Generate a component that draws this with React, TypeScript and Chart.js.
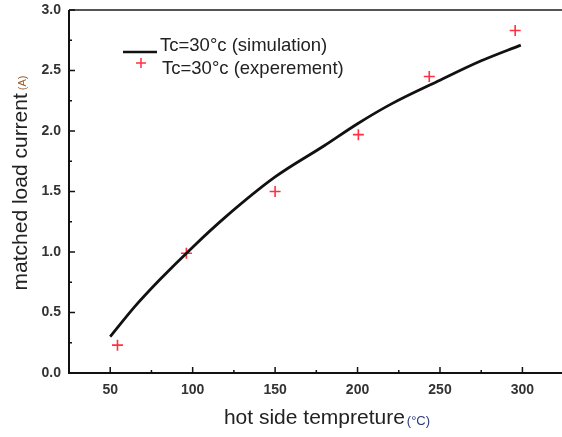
import React, { useEffect, useRef } from "react";
import { Chart, registerables } from "chart.js";

Chart.register(...registerables);

const simTemps = [50, 65, 80, 100, 120, 150, 180, 200, 220, 250, 275, 299];
const simCurrent = [0.3, 0.55, 0.77, 1.04, 1.29, 1.62, 1.88, 2.06, 2.22, 2.42, 2.58, 2.71];
const expTemps = [54.4, 96.2, 150, 200.5, 243.5, 295.6];
const expCurrent = [0.23, 0.99, 1.5, 1.97, 2.45, 2.83];
const xTicks = [50, 100, 150, 200, 250, 300];
const xMinor = [25, 75, 125, 175, 225, 275];
const yTicks = [0, 0.5, 1.0, 1.5, 2.0, 2.5, 3.0];
const yMinor = [0.25, 0.75, 1.25, 1.75, 2.25, 2.75];
const simLabel = "Tc=30°c (simulation)";
const expLabel = "Tc=30°c (experement)";
const xTitle = "hot side tempreture";
const xUnit = "(°C)";
const yTitle = "matched load current";
const yUnit = "(A)";

const FONT = "'Liberation Sans', Arial, sans-serif";

const decorPlugin = {
  id: "decor",
  afterDraw(chart: any) {
    const ctx = chart.ctx;
    const a = chart.chartArea;
    const xs = chart.scales.x;
    const ys = chart.scales.y;
    ctx.save();
    // frame
    ctx.strokeStyle = "#555";
    ctx.lineWidth = 2;
    ctx.beginPath();
    ctx.moveTo(a.left, a.top);
    ctx.lineTo(a.right, a.top);
    ctx.stroke();
    ctx.strokeStyle = "#111";
    ctx.lineWidth = 2;
    ctx.beginPath();
    ctx.moveTo(a.left, a.top);
    ctx.lineTo(a.left, a.bottom);
    ctx.lineTo(a.right, a.bottom);
    ctx.stroke();
    // ticks
    ctx.lineWidth = 1.5;
    ctx.beginPath();
    xTicks.forEach((v) => {
      const px = xs.getPixelForValue(v);
      ctx.moveTo(px, a.bottom);
      ctx.lineTo(px, a.bottom - 6);
    });
    xMinor.forEach((v) => {
      const px = xs.getPixelForValue(v);
      ctx.moveTo(px, a.bottom);
      ctx.lineTo(px, a.bottom - 3);
    });
    yTicks.forEach((v) => {
      const py = ys.getPixelForValue(v);
      ctx.moveTo(a.left, py);
      ctx.lineTo(a.left + 6, py);
    });
    yMinor.forEach((v) => {
      const py = ys.getPixelForValue(v);
      ctx.moveTo(a.left, py);
      ctx.lineTo(a.left + 3, py);
    });
    ctx.stroke();

    // axis titles
    ctx.textBaseline = "middle";
    ctx.textAlign = "left";
    ctx.font = `21px ${FONT}`;
    const xw = ctx.measureText(xTitle).width;
    ctx.font = `13px ${FONT}`;
    const xuw = ctx.measureText(xUnit).width;
    let sx = 327 - (xw + 2 + xuw) / 2;
    ctx.font = `21px ${FONT}`;
    ctx.fillStyle = "#222";
    ctx.fillText(xTitle, sx, 418);
    ctx.font = `13px ${FONT}`;
    ctx.fillStyle = "#2b3a7a";
    ctx.fillText(xUnit, sx + xw + 2, 421);

    ctx.save();
    ctx.translate(21, 183);
    ctx.rotate(-Math.PI / 2);
    ctx.font = `21px ${FONT}`;
    const yw = ctx.measureText(yTitle).width;
    ctx.font = `11px ${FONT}`;
    const yuw = ctx.measureText(yUnit).width;
    const sy = -(yw + 3 + yuw) / 2;
    ctx.font = `21px ${FONT}`;
    ctx.fillStyle = "#222";
    ctx.fillText(yTitle, sy, 0);
    ctx.font = `11px ${FONT}`;
    ctx.fillStyle = "#9a5a2a";
    ctx.fillText(yUnit, sy + yw + 3, 2);
    ctx.restore();

    // legend
    ctx.strokeStyle = "#111";
    ctx.lineWidth = 2.5;
    ctx.beginPath();
    ctx.moveTo(123, 52);
    ctx.lineTo(157, 52);
    ctx.stroke();
    ctx.strokeStyle = "#ff3040";
    ctx.lineWidth = 1.5;
    ctx.beginPath();
    ctx.moveTo(136, 63);
    ctx.lineTo(146, 63);
    ctx.moveTo(141, 58);
    ctx.lineTo(141, 68);
    ctx.stroke();
    ctx.font = `18.5px ${FONT}`;
    ctx.fillStyle = "#222";
    ctx.fillText(simLabel, 160, 46);
    ctx.fillText(expLabel, 162, 69);
    ctx.restore();
  },
};

export default function App() {
  const ref = useRef<HTMLCanvasElement>(null);
  useEffect(() => {
    if (!ref.current) return;
    const chart = new Chart(ref.current, {
      type: "scatter",
      data: {
        datasets: [
          {
            label: simLabel,
            data: simTemps.map((x, i) => ({ x, y: simCurrent[i] })),
            showLine: true,
            borderColor: "#111",
            borderWidth: 2.8,
            pointRadius: 0,
            cubicInterpolationMode: "monotone",
          } as any,
          {
            label: expLabel,
            data: expTemps.map((x, i) => ({ x, y: expCurrent[i] })),
            showLine: false,
            pointStyle: "cross",
            pointRadius: 5.5,
            borderColor: "#ff3040",
            backgroundColor: "#ff3040",
            pointBorderWidth: 1.6,
          } as any,
        ],
      },
      options: {
        responsive: false,
        animation: false,
        layout: { autoPadding: false, padding: { top: 10, right: 0, left: 0, bottom: 0 } },
        plugins: {
          legend: { display: false },
          tooltip: { enabled: false },
        },
        scales: {
          x: {
            type: "linear",
            min: 25,
            max: 324,
            grid: { display: false, drawTicks: false },
            border: { display: false },
            afterBuildTicks: (s: any) => {
              s.ticks = xTicks.map((v) => ({ value: v }));
            },
            afterFit: (s: any) => {
              s.height = 64;
              s.paddingLeft = 0;
              s.paddingRight = 0;
            },
            ticks: {
              padding: 9,
              color: "#333",
              font: { family: FONT, size: 14, weight: "bold" },
              maxRotation: 0,
            },
          },
          y: {
            type: "linear",
            min: 0,
            max: 3,
            grid: { display: false, drawTicks: false },
            border: { display: false },
            afterBuildTicks: (s: any) => {
              s.ticks = yTicks.map((v) => ({ value: v }));
            },
            afterFit: (s: any) => {
              s.width = 69;
              s.paddingTop = 0;
              s.paddingBottom = 0;
            },
            ticks: {
              padding: 8,
              color: "#333",
              font: { family: FONT, size: 14, weight: "bold" },
              callback: (v: any) => Number(v).toFixed(1),
            },
          },
        },
      },
      plugins: [decorPlugin],
    });
    return () => chart.destroy();
  }, []);
  return (
    <div style={{ position: "absolute", left: 0, top: 0, width: 562, height: 437, background: "#fff" }}>
      <canvas ref={ref} width={562} height={437} />
    </div>
  );
}
